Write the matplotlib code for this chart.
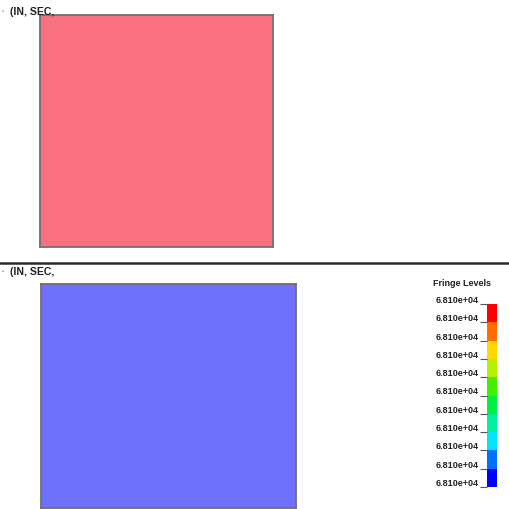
import numpy as np
import matplotlib
matplotlib.use("Agg")
import matplotlib.pyplot as plt
from matplotlib.colors import ListedColormap, BoundaryNorm
from matplotlib.lines import Line2D

W, H = 509, 510

# fringe levels (all nodes at the same value)
levels = [6.810e4, 6.810e4, 6.810e4, 6.810e4, 6.810e4, 6.810e4,
          6.810e4, 6.810e4, 6.810e4, 6.810e4, 6.810e4]
level_colors = ['#0000FF', '#0070FF', '#00E4FF', '#00F0A0', '#00F040',
                '#40F000', '#B4F000', '#FFD800', '#FF6C00', '#FF0000']

# the two section views
top_value = [[6.810e4]]
bottom_value = [[6.810e4]]
top_color = '#F87082'
bottom_color = '#7070FF'
header = '(IN, SEC,'

plt.rcParams['font.family'] = ['Liberation Sans', 'DejaVu Sans']
fig = plt.figure(figsize=(W / 100, H / 100), dpi=100)


def px_axes(x0, y0, x1, y1):
    # axes from pixel box (top-left origin)
    return fig.add_axes([x0 / W, 1 - y1 / H, (x1 - x0) / W, (y1 - y0) / H])


def panel(box, value, color):
    ax = px_axes(*box)
    ax.pcolormesh([0, 1], [0, 1], np.array(value), cmap=ListedColormap([color]))
    ax.set_xlim(0, 1)
    ax.set_ylim(0, 1)
    ax.set_xticks([])
    ax.set_yticks([])
    for s in ax.spines.values():
        s.set_color('#707070')
        s.set_linewidth(1.3)
    return ax


panel((40, 16, 273, 248), top_value, top_color)
panel((41, 285, 296, 509), bottom_value, bottom_color)

# headers
for y in (12, 272):
    fig.text(2 / W, 1 - y / H, '•', fontsize=4, color='#777777', va='center')
    fig.text(10 / W, 1 - y / H, header, fontsize=7.6, fontweight='bold',
             color='#222222', va='center')

# separator between the views
fig.add_artist(Line2D([0, 1], [1 - 263.5 / H] * 2, color='#2a2a2a', lw=1.8))

# colour legend
cax = px_axes(487, 305, 497, 488)
n = len(level_colors)
cmap = ListedColormap(level_colors)
norm = BoundaryNorm(np.arange(n + 1), n)
cax.pcolormesh([0, 1], np.arange(n + 1), np.arange(n).reshape(-1, 1),
               cmap=cmap, norm=norm)
cax.set_xlim(0, 1)
cax.set_ylim(0, n)
cax.set_xticks([])
cax.set_yticks(np.arange(n + 1))
cax.set_yticklabels(['%.3e' % v for v in levels[::-1]])
cax.tick_params(axis='y', length=5, width=0.8, color='#555555', pad=1,
                labelsize=6.5)
for lab in cax.get_yticklabels():
    lab.set_verticalalignment('bottom')
    lab.set_fontweight('bold')
    lab.set_color('#222222')
for s in cax.spines.values():
    s.set_visible(False)

fig.text(433 / W, 1 - 284 / H, 'Fringe Levels', fontsize=6.5,
         fontweight='bold', color='#222222', va='center')

fig.savefig('out.png', dpi=100)
